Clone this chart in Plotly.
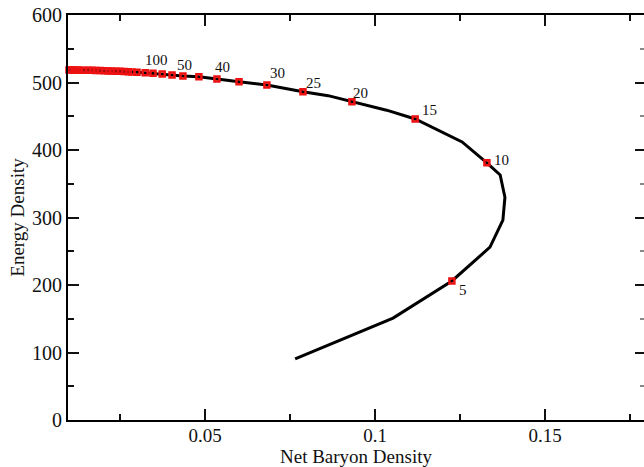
import plotly.graph_objects as go

# Freeze-out curve: net baryon density vs energy density
curve_x = [0.0765, 0.1053, 0.1226, 0.1338, 0.1376, 0.1382, 0.1368, 0.1329,
           0.1256, 0.1118, 0.1034, 0.0932, 0.0862, 0.0788, 0.0682, 0.0600,
           0.0535, 0.0482, 0.0435, 0.0403, 0.0374, 0.0347, 0.0324, 0.0300,
           0.0285, 0.0274, 0.0250, 0.0226, 0.0203, 0.0179, 0.0156, 0.0132,
           0.0115, 0.0100]
curve_y = [90.4, 151.0, 206.0, 256.0, 296.0, 330.0, 363.0, 381.0,
           412.0, 446.0, 459.0, 471.6, 480.5, 486.4, 496.3, 501.2,
           505.2, 508.6, 509.6, 511.1, 512.6, 513.6, 514.5, 515.1,
           515.6, 515.9, 516.5, 517.0, 517.4, 517.8, 518.1, 518.3,
           518.5, 518.7]

# Points computed at selected collision energies
point_x = [0.1226, 0.1329, 0.1118, 0.0932, 0.0788, 0.0682, 0.0600, 0.0535,
           0.0482, 0.0435, 0.0403, 0.0374, 0.0347, 0.0324, 0.0300, 0.0285,
           0.0274, 0.0262, 0.0250, 0.0238, 0.0226, 0.0215, 0.0203, 0.0191,
           0.0179, 0.0168, 0.0156, 0.0144, 0.0132, 0.0124, 0.0115, 0.0106,
           0.0100]
point_y = [206.0, 381.0, 446.0, 471.6, 486.4, 496.3, 501.2, 505.2,
           508.6, 509.6, 511.1, 512.6, 513.6, 514.5, 515.1, 515.6,
           515.9, 516.2, 516.5, 516.8, 517.0, 517.2, 517.4, 517.6,
           517.8, 518.0, 518.1, 518.2, 518.3, 518.4, 518.5, 518.6,
           518.7]

# Collision-energy labels attached to some of the points
label_text = ["5", "10", "15", "20", "25", "30", "40", "50", "100"]
label_x = [0.1226, 0.1329, 0.1118, 0.0932, 0.0788, 0.0682, 0.0535, 0.0435, 0.0324]
label_y = [206.0, 381.0, 446.0, 471.6, 486.4, 496.3, 505.2, 509.6, 514.5]

# pixel offsets of each label from its point
label_dx = [11, 15, 14, 9, 11, 11, 6, 2, 11]
label_dy = [-9, 3, 9, 9, 9, 12, 12, 11, 13]

FONT = "Liberation Serif, Times New Roman, serif"
INK = "#111111"
RED = "#ee1111"

fig = go.Figure()
fig.add_trace(go.Scatter(x=curve_x, y=curve_y, mode="lines",
                         line=dict(color="black", width=3),
                         showlegend=False, hoverinfo="skip"))
fig.add_trace(go.Scatter(x=point_x, y=point_y, mode="markers",
                         marker=dict(symbol="square-open", size=5,
                                     color=RED, line=dict(color=RED, width=2.5)),
                         cliponaxis=False, showlegend=False))
# invisible trace so the right-hand axis is drawn
fig.add_trace(go.Scatter(x=[], y=[], yaxis="y2", showlegend=False))

for t, x, y, dx, dy in zip(label_text, label_x, label_y, label_dx, label_dy):
    fig.add_annotation(x=x, y=y, text=t, showarrow=False, xshift=dx, yshift=dy,
                       font=dict(family=FONT, size=15, color=INK))

# x-axis title placed in the bottom margin
fig.add_annotation(x=0.5, xref="paper", y=0, yref="paper", yshift=-49,
                   yanchor="bottom", showarrow=False, text="Net Baryon Density",
                   font=dict(family=FONT, size=19, color=INK))

fig.update_layout(
    width=644, height=467,
    margin=dict(l=68, r=0, t=15, b=47),
    paper_bgcolor="white", plot_bgcolor="white",
    font=dict(family=FONT, size=20, color=INK),
    xaxis=dict(range=[0.0097, 0.1791], dtick=0.05, tick0=0,
               showgrid=False, zeroline=False,
               showline=True, linecolor="black", linewidth=2, mirror="ticks",
               ticks="inside", ticklen=11, tickwidth=1.5, tickcolor=INK,
               ticklabelstandoff=-3,
               minor=dict(dtick=0.025, ticks="inside", ticklen=6,
                          tickwidth=1.5, tickcolor=INK),
               tickfont=dict(family=FONT, size=19, color=INK)),
    yaxis=dict(range=[0, 600], dtick=100, tick0=0,
               showgrid=False, zeroline=False,
               showline=True, linecolor="black", linewidth=2, mirror=False,
               ticks="inside", ticklen=11, tickwidth=1.5, tickcolor=INK,
               minor=dict(dtick=50, ticks="inside", ticklen=6,
                          tickwidth=1.5, tickcolor=INK),
               tickfont=dict(family=FONT, size=20, color=INK),
               title=dict(text="Energy Density", standoff=2,
                          font=dict(family=FONT, size=19, color=INK))),
    yaxis2=dict(range=[0, 600], dtick=100, overlaying="y", side="right",
                showgrid=False, zeroline=False, showline=False,
                showticklabels=False,
                ticks="inside", ticklen=9, tickwidth=1.5, tickcolor=INK,
                minor=dict(dtick=50, ticks="inside", ticklen=4,
                           tickwidth=1.5, tickcolor="#888888")),
)

fig.write_html("out.html")
